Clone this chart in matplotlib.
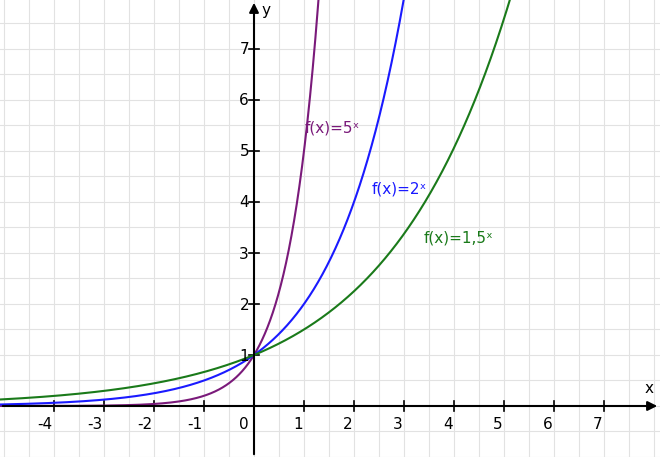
import numpy as np
import matplotlib.pyplot as plt

bases = [5, 2, 1.5]
labels = ["f(x)=5ˣ", "f(x)=2ˣ", "f(x)=1,5ˣ"]
colors = ["#7a1a7a", "#1a1aff", "#1a7a1a"]
label_pos = [(1.02, 5.45), (2.35, 4.25), (3.4, 3.3)]
xticks = [-4, -3, -2, -1, 1, 2, 3, 4, 5, 6, 7]
yticks = [1, 2, 3, 4, 5, 6, 7]

fig = plt.figure(figsize=(6.6, 4.57), dpi=100)
ax = fig.add_axes([0, 0, 1, 1])
ax.set_xlim(-5.08, 8.12)
ax.set_ylim(-1.0, 7.96)
ax.axis('off')

for g in np.arange(-5, 8.5, 0.5):
    ax.axvline(g, color='#e2e2e2', lw=0.8, zorder=0)
for g in np.arange(-1, 8.5, 0.5):
    ax.axhline(g, color='#e2e2e2', lw=0.8, zorder=0)

ax.annotate('', xy=(8.12, 0), xytext=(-5.08, 0),
            arrowprops=dict(arrowstyle='-|>', color='black', lw=1.5, mutation_scale=14))
ax.annotate('', xy=(0, 7.96), xytext=(0, -1.0),
            arrowprops=dict(arrowstyle='-|>', color='black', lw=1.5, mutation_scale=14))

for t in xticks:
    ax.plot([t, t], [-0.1, 0.1], color='black', lw=1.2)
    ax.text(t - 0.03, -0.22, str(t), ha='right', va='top', fontsize=11)
for t in yticks:
    ax.plot([-0.1, 0.1], [t, t], color='black', lw=1.2)
    ax.text(-0.1, t - 0.02, str(t), ha='right', va='center', fontsize=11)
ax.text(-0.1, -0.22, '0', ha='right', va='top', fontsize=11)
ax.text(7.9, 0.2, 'x', ha='center', va='bottom', fontsize=11)
ax.text(0.25, 7.6, 'y', ha='center', va='bottom', fontsize=11)

x = np.linspace(-5.1, 8.2, 2000)
for b, lab, c, (lx, ly) in zip(bases, labels, colors, label_pos):
    y = b ** x
    ax.plot(x[y < 9], y[y < 9], color=c, lw=1.5)
    ax.text(lx, ly, lab, color=c, fontsize=11, ha='left', va='center')

fig.savefig('out.png', dpi=100)
